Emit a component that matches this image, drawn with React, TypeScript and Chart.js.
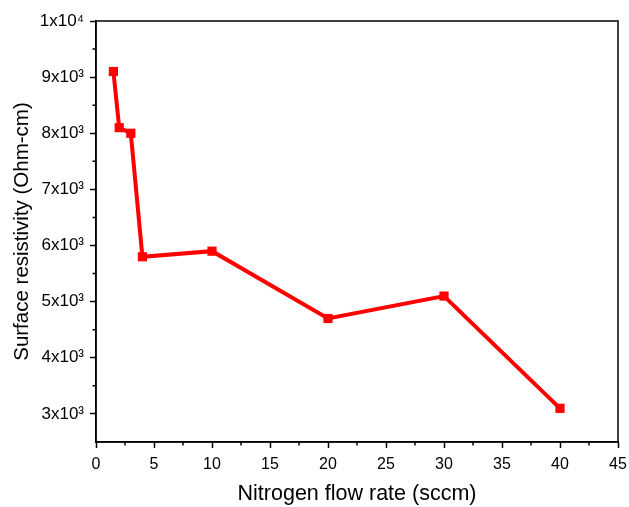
import React, { useEffect, useRef } from 'react';
import { Chart, registerables } from 'chart.js';

Chart.register(...registerables);

const flowRate = [1.5, 2, 3, 4, 10, 20, 30, 40];
const resistivity = [9100, 8100, 8000, 5800, 5900, 4700, 5100, 3100];

const xTickValues = [0, 5, 10, 15, 20, 25, 30, 35, 40, 45];
const xMinorTicks = [2.5, 7.5, 12.5, 17.5, 22.5, 27.5, 32.5, 37.5, 42.5];
const yTickValues = [3000, 4000, 5000, 6000, 7000, 8000, 9000, 10000];
const yTickLabels = ['3x10³', '4x10³', '5x10³', '6x10³', '7x10³', '8x10³', '9x10³', '1x10⁴'];
const yMinorTicks = [3500, 4500, 5500, 6500, 7500, 8500, 9500];

const xTitle = 'Nitrogen flow rate (sccm)';
const yTitle = 'Surface resistivity (Ohm-cm)';

const FONT = 'Arial, "Liberation Sans", sans-serif';

const framePlugin = {
  id: 'frameAndMinor',
  afterDraw(chart: any) {
    const { ctx, chartArea, scales } = chart;
    const { left, right, top, bottom } = chartArea;
    ctx.save();
    ctx.strokeStyle = '#000';
    ctx.lineWidth = 1.5;
    ctx.strokeRect(left, top, right - left, bottom - top);
    ctx.beginPath();
    xMinorTicks.forEach((v) => {
      const px = scales.x.getPixelForValue(v);
      ctx.moveTo(px, bottom);
      ctx.lineTo(px, bottom + 3.5);
    });
    yMinorTicks.forEach((v) => {
      const py = scales.y.getPixelForValue(v);
      ctx.moveTo(left, py);
      ctx.lineTo(left - 3.5, py);
    });
    ctx.stroke();
    ctx.restore();
  },
};

export default function App() {
  const ref = useRef<HTMLCanvasElement | null>(null);
  useEffect(() => {
    if (!ref.current) return;
    const chart = new Chart(ref.current, {
      type: 'line',
      data: {
        datasets: [
          {
            data: flowRate.map((x, i) => ({ x, y: resistivity[i] })),
            borderColor: '#ff0000',
            backgroundColor: '#ff0000',
            borderWidth: 4,
            pointStyle: 'rect',
            pointRadius: 6.5,
            pointBorderWidth: 0,
            pointBackgroundColor: '#ff0000',
            tension: 0,
          },
        ],
      },
      options: {
        animation: false,
        responsive: false,
        maintainAspectRatio: false,
        layout: { padding: { left: 0, top: 21, right: 11, bottom: 0 } },
        plugins: { legend: { display: false }, tooltip: { enabled: false } },
        scales: {
          x: {
            type: 'linear',
            min: 0,
            max: 45,
            afterBuildTicks: (s: any) => {
              s.ticks = xTickValues.map((v) => ({ value: v }));
            },
            afterFit: (s: any) => {
              s.height = 65;
              s.paddingLeft = 0;
              s.paddingRight = 0;
            },
            grid: { drawOnChartArea: false, drawTicks: true, tickLength: 6, tickWidth: 1.5, tickColor: '#000' },
            border: { display: true, color: '#000', width: 1.5 },
            ticks: {
              color: '#000',
              font: { family: FONT, size: 16 },
              padding: 7,
              maxRotation: 0,
              autoSkip: false,
            },
            title: {
              display: true,
              text: xTitle,
              color: '#000',
              font: { family: FONT, size: 21.5 },
              padding: { top: 4, bottom: 0 },
            },
          },
          y: {
            type: 'linear',
            min: 2500,
            max: 10000,
            afterBuildTicks: (s: any) => {
              s.ticks = yTickValues.map((v) => ({ value: v }));
            },
            afterFit: (s: any) => {
              s.width = 96;
              s.paddingTop = 0;
              s.paddingBottom = 0;
            },
            grid: { drawOnChartArea: false, drawTicks: true, tickLength: 6, tickWidth: 1.5, tickColor: '#000' },
            border: { display: true, color: '#000', width: 1.5 },
            ticks: {
              color: '#000',
              font: { family: FONT, size: 17 },
              padding: 6,
              autoSkip: false,
              callback: (v: any) => {
                const i = yTickValues.indexOf(Number(v));
                return i >= 0 ? yTickLabels[i] : '';
              },
            },
            title: {
              display: true,
              text: yTitle,
              color: '#000',
              font: { family: FONT, size: 20.5 },
              padding: { top: 10, bottom: 4 },
            },
          },
        },
      },
      plugins: [framePlugin],
    });
    return () => chart.destroy();
  }, []);
  return (
    <div style={{ position: 'fixed', left: 0, top: 0, width: 629, height: 507, background: '#fff' }}>
      <canvas ref={ref} width={629} height={507} style={{ width: 629, height: 507, display: 'block' }} />
    </div>
  );
}
